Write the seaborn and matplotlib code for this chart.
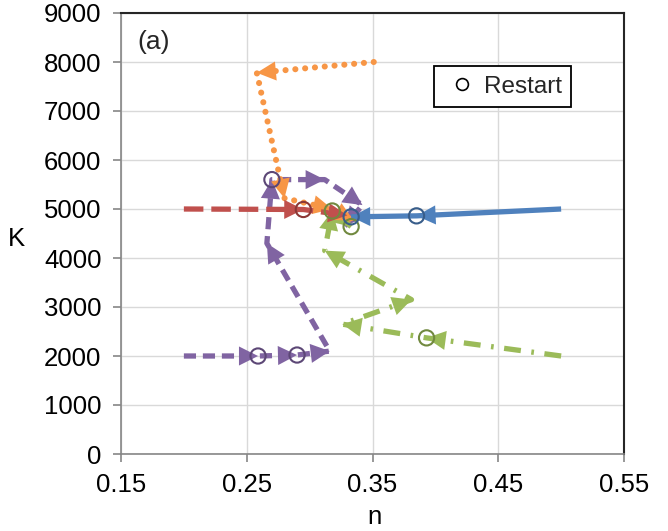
import matplotlib
matplotlib.use("Agg")
import matplotlib.pyplot as plt
import seaborn as sns
import pandas as pd
from matplotlib.patches import FancyArrowPatch
from matplotlib.lines import Line2D

# ---- data ----
blue_n = [0.50, 0.385, 0.333]
blue_K = [5000, 4860, 4840]
blue_restart_n = [0.385, 0.333]
blue_restart_K = [4860, 4840]

red_n = [0.20, 0.295, 0.330]
red_K = [5000, 4990, 4870]
red_restart_n = [0.295]
red_restart_K = [4990]

orange_n = [0.351, 0.258, 0.280, 0.318, 0.335]
orange_K = [8000, 7780, 5220, 5000, 4760]

purple_n = [0.20, 0.259, 0.290, 0.316, 0.266, 0.270, 0.312, 0.342, 0.328]
purple_K = [2000, 2000, 2020, 2100, 4300, 5600, 5600, 5080, 4650]
purple_restart_n = [0.259, 0.290, 0.270]
purple_restart_K = [2000, 2020, 5600]

green_n = [0.50, 0.393, 0.326, 0.381, 0.312, 0.318, 0.333]
green_K = [2000, 2370, 2650, 3150, 4150, 4960, 4640]
green_restart_n = [0.393, 0.318, 0.333]
green_restart_K = [2370, 4960, 4640]

x_ticks = [0.15, 0.25, 0.35, 0.45, 0.55]
x_labels = ["0.15", "0.25", "0.35", "0.45", "0.55"]
y_ticks = [0, 1000, 2000, 3000, 4000, 5000, 6000, 7000, 8000, 9000]

sns.set_theme(style="white")
plt.rcParams['font.family'] = ['Liberation Sans', 'DejaVu Sans']

fig = plt.figure(figsize=(6.68, 5.31), dpi=100)
ax = fig.add_axes([121/668, 1 - 454/531, 503/668, 441/531])

series = [
    (purple_n, purple_K, "#8064A2", "#5C4776", (0, (2.3, 1.3)), "butt", 3.8, purple_restart_n, purple_restart_K),
    (green_n, green_K, "#9BBB59", "#71893F", (0, (3.2, 2.0, 0.5, 2.0)), "butt", 3.8, green_restart_n, green_restart_K),
    (orange_n, orange_K, "#F79646", "#B66D31", (0, (0.01, 1.6)), "round", 4.4, [], []),
    (red_n, red_K, "#C0504D", "#8C3836", (0, (3.7, 1.5)), "butt", 3.8, red_restart_n, red_restart_K),
    (blue_n, blue_K, "#4F81BD", "#385D8A", "-", "butt", 3.8, blue_restart_n, blue_restart_K),
]

for i, (xs, ys, col, dcol, ls, cap, lw, rn, rk) in enumerate(series):
    df = pd.DataFrame({"n": xs, "K": ys})
    sns.lineplot(data=df, x="n", y="K", sort=False, estimator=None, ax=ax,
                 color=col, linewidth=lw, linestyle=ls, zorder=3 + i,
                 dash_capstyle=cap, solid_capstyle="butt")
    for j in range(1, len(xs)):
        arr = FancyArrowPatch((xs[j - 1], ys[j - 1]), (xs[j], ys[j]),
                              arrowstyle="-|>,head_length=11,head_width=5.5",
                              mutation_scale=1.25, shrinkA=0, shrinkB=0,
                              linewidth=0, color=col, zorder=3 + i)
        ax.add_patch(arr)
    if rn:
        rdf = pd.DataFrame({"n": rn, "K": rk})
        sns.scatterplot(data=rdf, x="n", y="K", ax=ax, marker="o", s=120,
                        facecolors="none", edgecolor=dcol, linewidth=1.5,
                        zorder=10 + i)

ax.set_xlim(0.15, 0.55)
ax.set_ylim(0, 9000)
ax.set_xticks(x_ticks)
ax.set_xticklabels(x_labels)
ax.set_yticks(y_ticks)
ax.grid(True, color="#D9D9D9", linewidth=1.0)
ax.set_axisbelow(True)

for s in ["left", "bottom"]:
    ax.spines[s].set_color("#868686")
    ax.spines[s].set_linewidth(1.2)
for s in ["top", "right"]:
    ax.spines[s].set_color("#262626")
    ax.spines[s].set_linewidth(1.5)

ax.tick_params(axis="both", direction="out", length=6, width=1.2, color="#868686",
               labelsize=18.5, labelcolor="black", left=True, bottom=True)
ax.tick_params(axis="y", pad=8)
ax.tick_params(axis="x", pad=8)

ax.set_xlabel("n", fontsize=18.5, color="black")
ax.set_ylabel("K", fontsize=18.5, color="black", rotation=0)
ax.xaxis.set_label_coords(0.503, -0.115)
ax.yaxis.set_label_coords(-0.207, 0.46)

ax.text(0.032, 0.934, "(a)", transform=ax.transAxes, fontsize=19, va="center", ha="left")

handle = Line2D([], [], linestyle="none", marker="o", markersize=8.5,
                markerfacecolor="none", markeredgecolor="black", markeredgewidth=1.2)
leg = ax.legend([handle], ["Restart"], loc="upper left", bbox_to_anchor=(0.622, 0.880),
                fontsize=17.5, frameon=True, fancybox=False, framealpha=1,
                edgecolor="black", handlelength=1.5, handletextpad=0.15,
                borderpad=0.4, borderaxespad=0)
leg.get_frame().set_linewidth(1.3)
leg.set_zorder(20)

fig.savefig("out.png", dpi=100)
